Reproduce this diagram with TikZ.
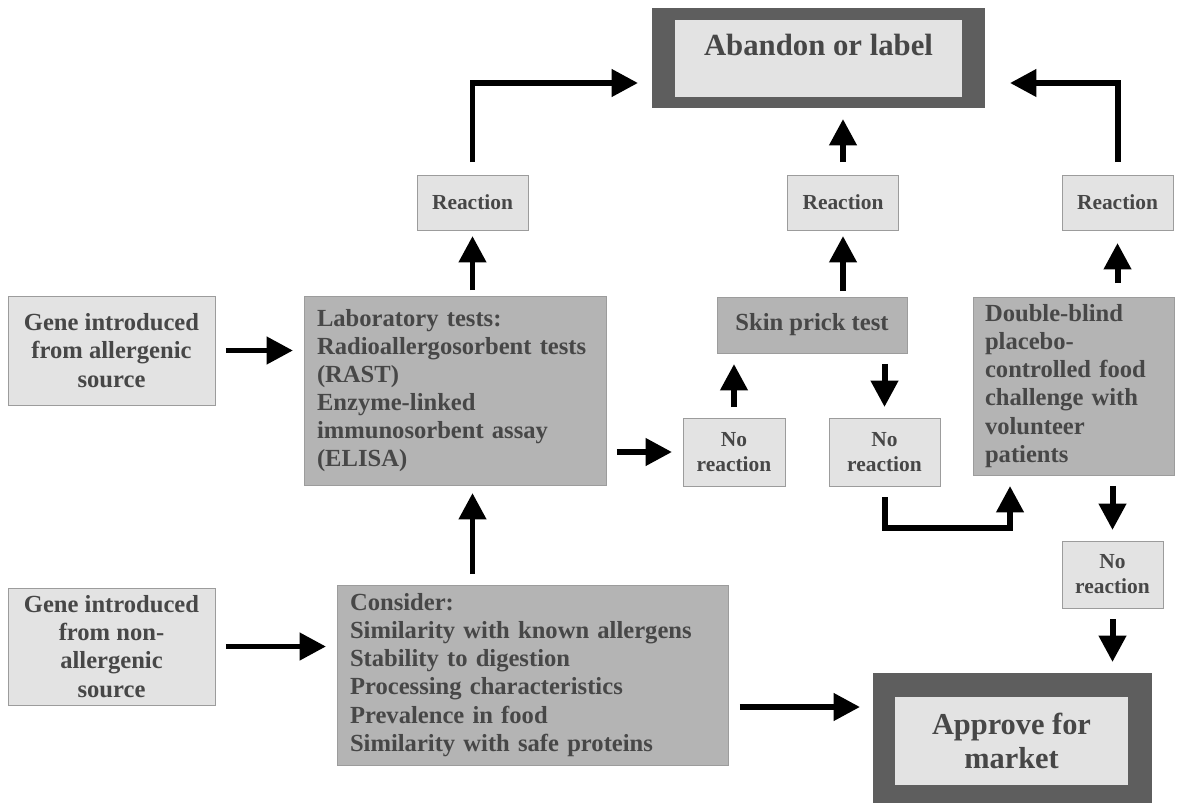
\documentclass[tikz,border=0pt]{standalone}
\usepackage{fontspec}
\setmainfont{Liberation Serif}
\usetikzlibrary{arrows.meta}
\definecolor{txtgray}{HTML}{474747}
\definecolor{lightfill}{HTML}{E3E3E3}
\definecolor{darkfill}{HTML}{B4B4B4}
\definecolor{framegray}{HTML}{5E5E5E}
\definecolor{edgegray}{HTML}{9C9C9C}
\begin{document}
\begin{tikzpicture}[x=0.02cm,y=-0.02cm,
  box/.style={draw=edgegray,line width=0.5pt,outer sep=0pt,text=txtgray},
  smallbox/.style={box,fill=lightfill,align=center,font=\fontsize{12.2}{14.2}\selectfont\bfseries},
  lightbox/.style={box,fill=lightfill,align=center,font=\fontsize{14}{16}\selectfont\bfseries},
  darkbox/.style={box,fill=darkfill,font=\fontsize{14}{16}\selectfont\bfseries},
  listbox/.style={darkbox,align=left,inner xsep=0.26cm},
  frame/.style={fill=framegray,outer sep=0pt,inner sep=0pt},
  arr/.style={line width=3.4pt,-{Triangle[length=15pt,width=15pt]},shorten <=0.22cm,shorten >=0.22cm}]
\useasboundingbox (0,0) rectangle (1179,805);

\node[frame,minimum width=6.66cm,minimum height=2cm] (abandonO) at (818.5,58) {};
\node[box,fill=lightfill,draw=none,minimum width=5.74cm,minimum height=1.54cm,text depth=0.55cm,
  font=\fontsize{17.5}{21}\selectfont\bfseries] (abandon) at (818.5,58.5) {Abandon or label};

\node[smallbox,minimum width=2.22cm,minimum height=1.1cm] (reaction1) at (472.5,202.5) {Reaction};
\node[smallbox,minimum width=2.22cm,minimum height=1.1cm] (reaction2) at (843,202.5) {Reaction};
\node[smallbox,minimum width=2.22cm,minimum height=1.1cm] (reaction3) at (1117.5,202.5) {Reaction};

\node[lightbox,minimum width=4.14cm,minimum height=2.18cm] (gene1) at (111.5,350.5)
  {Gene introduced\\from allergenic\\source};
\node[listbox,text width=5.52cm,minimum height=3.78cm] (lab) at (455,390.5)
  {Laboratory tests:\\Radioallergosorbent tests\\(RAST)\\Enzyme-linked\\immunosorbent assay\\(ELISA)};
\node[darkbox,minimum width=3.8cm,minimum height=1.12cm] (skin) at (812,325) {Skin prick test};
\node[smallbox,minimum width=2.04cm,minimum height=1.36cm] (noreact1) at (734,452) {No\\reaction};
\node[smallbox,minimum width=2.22cm,minimum height=1.36cm] (noreact2) at (884.5,452) {No\\reaction};
\node[listbox,inner xsep=0.24cm,text width=3.54cm,minimum height=3.56cm] (double) at (1073.5,386)
  {Double-blind\\placebo-\\controlled food\\challenge with\\volunteer\\patients};
\node[smallbox,minimum width=2.02cm,minimum height=1.34cm] (noreact3) at (1112.5,574.5) {No\\reaction};

\node[lightbox,minimum width=4.14cm,minimum height=2.34cm] (gene2) at (111.5,646.5)
  {Gene introduced\\from non-\\allergenic\\source};
\node[listbox,text width=7.3cm,minimum height=3.6cm] (consider) at (532.5,675)
  {Consider:\\Similarity with known allergens\\Stability to digestion\\Processing characteristics\\Prevalence in food\\Similarity with safe proteins};

\node[frame,minimum width=5.58cm,minimum height=2.6cm] (approveO) at (1012.5,738) {};
\node[box,fill=lightfill,draw=none,minimum width=4.66cm,minimum height=1.76cm,align=center,
  font=\fontsize{17.3}{19.5}\selectfont\bfseries] (approve) at (1011.5,741) {Approve for\\market};

\draw[arr] (gene1.east) -- (gene1.east -| lab.west);
\draw[arr,shorten <=0.12cm,shorten >=0.12cm] (lab.north -| reaction1) -- (reaction1);
\draw[arr,shorten <=0.26cm,shorten >=0.28cm] (reaction1) |- ([yshift=0.5cm]abandonO.south west);
\draw[arr,shorten <=0.12cm,shorten >=0.12cm] (skin.north -| reaction2) -- (reaction2);
\draw[arr,shorten <=0.26cm] (reaction2) -- (reaction2 |- abandonO.south);
\draw[arr,shorten <=0.26cm,shorten >=0.5cm] (reaction3) |- ([yshift=0.5cm]abandonO.south east);
\draw[arr,shorten <=0.28cm,shorten >=0.26cm] (double.north -| reaction3) -- (reaction3);
\draw[arr] (lab.east |- noreact1) -- (noreact1);
\draw[arr] (noreact1) -- (noreact1 |- skin.south);
\draw[arr] (skin.south -| noreact2) -- (noreact2);
\draw[arr] (noreact2.south) -- ++(0,42) -| ([xshift=0.74cm]double.south west);
\draw[arr] (double.south -| noreact3) -- (noreact3);
\draw[arr] (noreact3) -- (noreact3 |- approveO.north);
\draw[arr] (gene2.east) -- (gene2.east -| consider.west);
\draw[arr,shorten >=0.16cm] (consider.north -| reaction1) -- (lab.south -| reaction1);
\draw[arr,shorten <=0.24cm,shorten >=0.26cm] ([yshift=-0.64cm]consider.east) -- ([yshift=-0.64cm]consider.east -| approveO.west);

\end{tikzpicture}
\end{document}
